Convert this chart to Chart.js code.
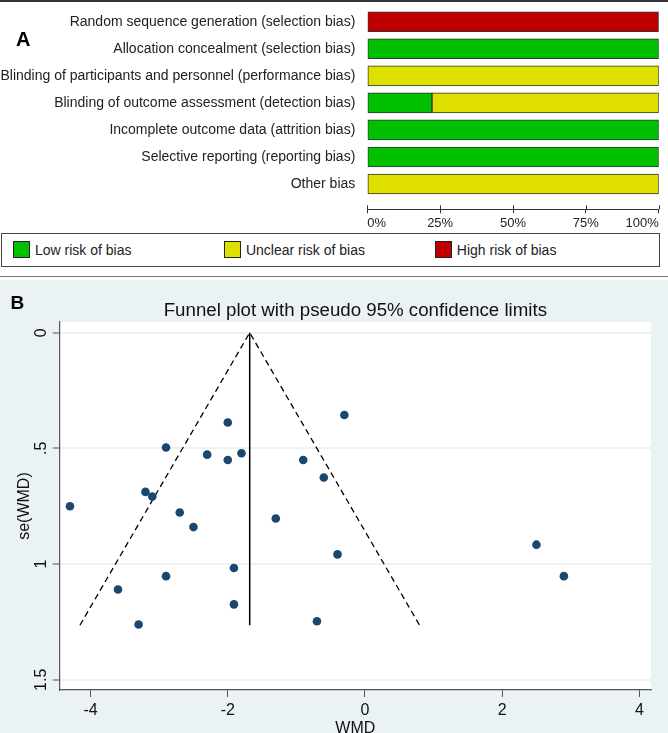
<!DOCTYPE html>
<html>
<head>
<meta charset="utf-8">
<script src="https://cdn.jsdelivr.net/npm/chart.js@4.4.1/dist/chart.umd.min.js"></script>
<style>
  html, body { margin: 0; padding: 0; background: #ffffff; }
  body { width: 668px; height: 733px; position: relative; overflow: hidden; font-family: "Liberation Sans", Arial, sans-serif; }
  .abs { position: absolute; }
  #topline { left: 0; top: 0; width: 668px; height: 1.5px; background: #333; }
  #sepline { left: 0; top: 275.5px; width: 668px; height: 1.5px; background: #777; }
  #cA { left: 0; top: 0; }
  #cB { left: 0; top: 280px; background: #EAF2F3; }
  .panel { font-weight: bold; font-size: 20px; line-height: 20px; color: #000; }
  #legend { left: 1.3px; top: 233px; width: 659px; height: 34px; box-sizing: border-box; border: 1.5px solid #444; }
  .sw { position: absolute; width: 17.6px; height: 17.6px; box-sizing: border-box; border: 1px solid #222; top: 240.7px; }
  .lt { position: absolute; top: 240.5px; font-size: 14px; line-height: 18px; color: #222; white-space: nowrap; }
</style>
</head>
<body>
<div id="topline" class="abs"></div>
<canvas id="cA" class="abs" width="668" height="232"></canvas>
<div id="legend" class="abs"></div>
<div id="legendItems"></div>
<div id="sepline" class="abs"></div>
<canvas id="cB" class="abs" width="668" height="453"></canvas>
<div class="abs panel" style="left:16px; top:29.1px;">A</div>
<div class="abs panel" style="left:10.5px; top:292.5px; font-size:19px; line-height:19px;">B</div>
<script>
// ---------- Panel A data: risk of bias (percent of studies) ----------
const domains = [
  'Random sequence generation (selection bias)',
  'Allocation concealment (selection bias)',
  'Blinding of participants and personnel (performance bias)',
  'Blinding of outcome assessment (detection bias)',
  'Incomplete outcome data (attrition bias)',
  'Selective reporting (reporting bias)',
  'Other bias'
];
const lowRisk     = [null, 100, null, 22.2, 100, 100, null];
const unclearRisk = [null, null, 100, 77.8, null, null, 100];
const highRisk    = [100, null, null, null, null, null, null];
const riskLabels  = ['Low risk of bias', 'Unclear risk of bias', 'High risk of bias'];
const riskColors  = ['#00C000', '#E0E000', '#C00000'];
const pctTicks    = [0, 25, 50, 75, 100];

// ---------- Panel B data: funnel plot ----------
const wmd = [-0.30, -2.00, -2.90, -2.30, -1.80, -2.00, -0.90, -0.60, -3.20, -3.10, -4.30, -2.70,
             -2.50, -1.30, 2.50, -0.40, -1.91, -2.90, 2.90, -3.60, -1.91, -0.70, -3.30];
const seWmd = [0.356, 0.388, 0.496, 0.527, 0.521, 0.550, 0.550, 0.626, 0.688, 0.708, 0.750, 0.777,
               0.840, 0.803, 0.916, 0.958, 1.017, 1.052, 1.052, 1.110, 1.174, 1.247, 1.261];
const funnelX = [-4.155, -1.68, 0.796];
const funnelY = [1.264, 0, 1.264];
const pooledX = [-1.68, -1.68];
const pooledY = [0, 1.264];
const xTickValues = [-4, -2, 0, 2, 4];
const yTickValues = [0, 0.5, 1, 1.5];
const yTickLabels = ['0', '.5', '1', '1.5'];

// ---------- Panel A chart ----------
const innerTicks = {
  id: 'innerTicks',
  afterDraw(chart) {
    const s = chart.scales.x, ctx = chart.ctx;
    ctx.save();
    ctx.strokeStyle = '#333'; ctx.lineWidth = 1;
    s.ticks.forEach(t => {
      const px = Math.round(s.getPixelForValue(t.value)) + 0.5;
      ctx.beginPath(); ctx.moveTo(px, s.top - 4); ctx.lineTo(px, s.top); ctx.stroke();
    });
    ctx.restore();
  }
};

new Chart(document.getElementById('cA'), {
  type: 'bar',
  data: {
    datasets: [lowRisk, unclearRisk, highRisk].map((vals, k) => ({
      label: riskLabels[k],
      data: vals.map((v, i) => ({ x: v, y: i })),
      backgroundColor: riskColors[k],
      borderColor: '#333',
      borderWidth: 1,
      borderSkipped: false,
      barThickness: 20
    }))
  },
  options: {
    indexAxis: 'y',
    responsive: false,
    animation: false,
    events: [],
    layout: { padding: { top: 8.2, right: 9.3, left: 0, bottom: 0 } },
    plugins: { legend: { display: false }, tooltip: { enabled: false } },
    scales: {
      x: {
        type: 'linear', stacked: true, min: 0, max: 100, offset: false,
        afterBuildTicks: s => { s.ticks = pctTicks.map(v => ({ value: v })); },
        afterFit: s => { s.height = 22.7; s.paddingLeft = 0; s.paddingRight = 0; },
        grid: { drawOnChartArea: false, drawTicks: true, tickLength: 4, tickColor: '#333', offset: false },
        border: { display: true, color: '#333', width: 1 },
        ticks: { align: 'inner', padding: 2, color: '#222', font: { family: 'Liberation Sans', size: 13 }, callback: v => v + '%' }
      },
      y: {
        type: 'linear', stacked: true, reverse: true, min: -0.5, max: 6.935, offset: false,
        afterBuildTicks: s => { s.ticks = domains.map((d, i) => ({ value: i })); },
        afterFit: s => { s.width = 367.3; s.paddingTop = 0; s.paddingBottom = 0; },
        grid: { display: false, drawTicks: false, offset: false },
        border: { display: false },
        ticks: { padding: 12, color: '#222', font: { family: 'Liberation Sans', size: 14 }, callback: v => domains[v] }
      }
    }
  },
  plugins: [innerTicks]
});

// HTML legend for panel A (from the dataset labels/colours)
const legendLeft = [12.8, 223.7, 434.6];
const li = document.getElementById('legendItems');
riskLabels.forEach((lab, k) => {
  const sw = document.createElement('div');
  sw.className = 'sw'; sw.style.left = legendLeft[k] + 'px'; sw.style.background = riskColors[k];
  li.appendChild(sw);
  const t = document.createElement('div');
  t.className = 'lt'; t.style.left = (legendLeft[k] + 22.2) + 'px'; t.textContent = lab;
  li.appendChild(t);
});

// ---------- Panel B chart ----------
const plotBg = {
  id: 'plotBg',
  beforeDraw(chart) {
    const a = chart.chartArea, ctx = chart.ctx;
    ctx.save(); ctx.fillStyle = '#ffffff';
    ctx.fillRect(a.left, a.top, a.right - a.left, a.bottom - a.top);
    ctx.restore();
  }
};

new Chart(document.getElementById('cB'), {
  type: 'scatter',
  data: {
    datasets: [
      {
        label: 'Studies',
        data: wmd.map((x, i) => ({ x: x, y: seWmd[i] })),
        backgroundColor: '#1A476F', borderWidth: 0, pointRadius: 4.3, pointHoverRadius: 4.3
      },
      {
        label: 'Pseudo 95% CI',
        type: 'line',
        data: funnelX.map((x, i) => ({ x: x, y: funnelY[i] })),
        borderColor: '#000', borderWidth: 1.3, borderDash: [6, 4], pointRadius: 0, fill: false, tension: 0
      },
      {
        label: 'Pooled WMD',
        type: 'line',
        data: pooledX.map((x, i) => ({ x: x, y: pooledY[i] })),
        borderColor: '#000', borderWidth: 1.5, pointRadius: 0, fill: false
      }
    ]
  },
  options: {
    responsive: false,
    animation: false,
    events: [],
    layout: { padding: { top: 0, right: 17, left: 0, bottom: 0 } },
    plugins: {
      legend: { display: false },
      tooltip: { enabled: false },
      title: {
        display: true, fullSize: false,
        text: 'Funnel plot with pseudo 95% confidence limits',
        color: '#111', font: { family: 'Liberation Sans', size: 18.7, weight: 'normal', lineHeight: 1.2 },
        padding: { top: 19.3, bottom: 0.3 }
      }
    },
    scales: {
      x: {
        type: 'linear', min: -4.45, max: 4.17,
        afterBuildTicks: s => { s.ticks = xTickValues.map(v => ({ value: v })); },
        afterFit: s => { s.height = 43; },
        grid: { drawOnChartArea: false, tickLength: 7, tickColor: '#555', tickWidth: 1 },
        border: { color: '#555', width: 1.2 },
        ticks: { padding: 4, color: '#111', font: { family: 'Liberation Sans', size: 16 } },
        title: { display: true, text: 'WMD', color: '#111', font: { family: 'Liberation Sans', size: 16, lineHeight: 0.5 }, padding: 0 }
      },
      y: {
        type: 'linear', reverse: true, min: -0.046, max: 1.544,
        afterBuildTicks: s => { s.ticks = yTickValues.map(v => ({ value: v })); },
        afterFit: s => { s.width = 59.7; },
        grid: { color: '#EAF2F3', lineWidth: 2, tickLength: 7, tickColor: '#555', tickWidth: 1 },
        border: { color: '#555', width: 1.2 },
        ticks: {
          minRotation: 90, maxRotation: 90, crossAlign: 'center', padding: 0,
          color: '#111', font: { family: 'Liberation Sans', size: 16 },
          callback: v => yTickLabels[yTickValues.indexOf(v)]
        },
        title: { display: true, text: 'se(WMD)', color: '#111', font: { family: 'Liberation Sans', size: 16, lineHeight: 1.2 }, padding: { top: 14.5, bottom: 0 } }
      }
    }
  },
  plugins: [plotBg]
});
</script>
</body>
</html>
